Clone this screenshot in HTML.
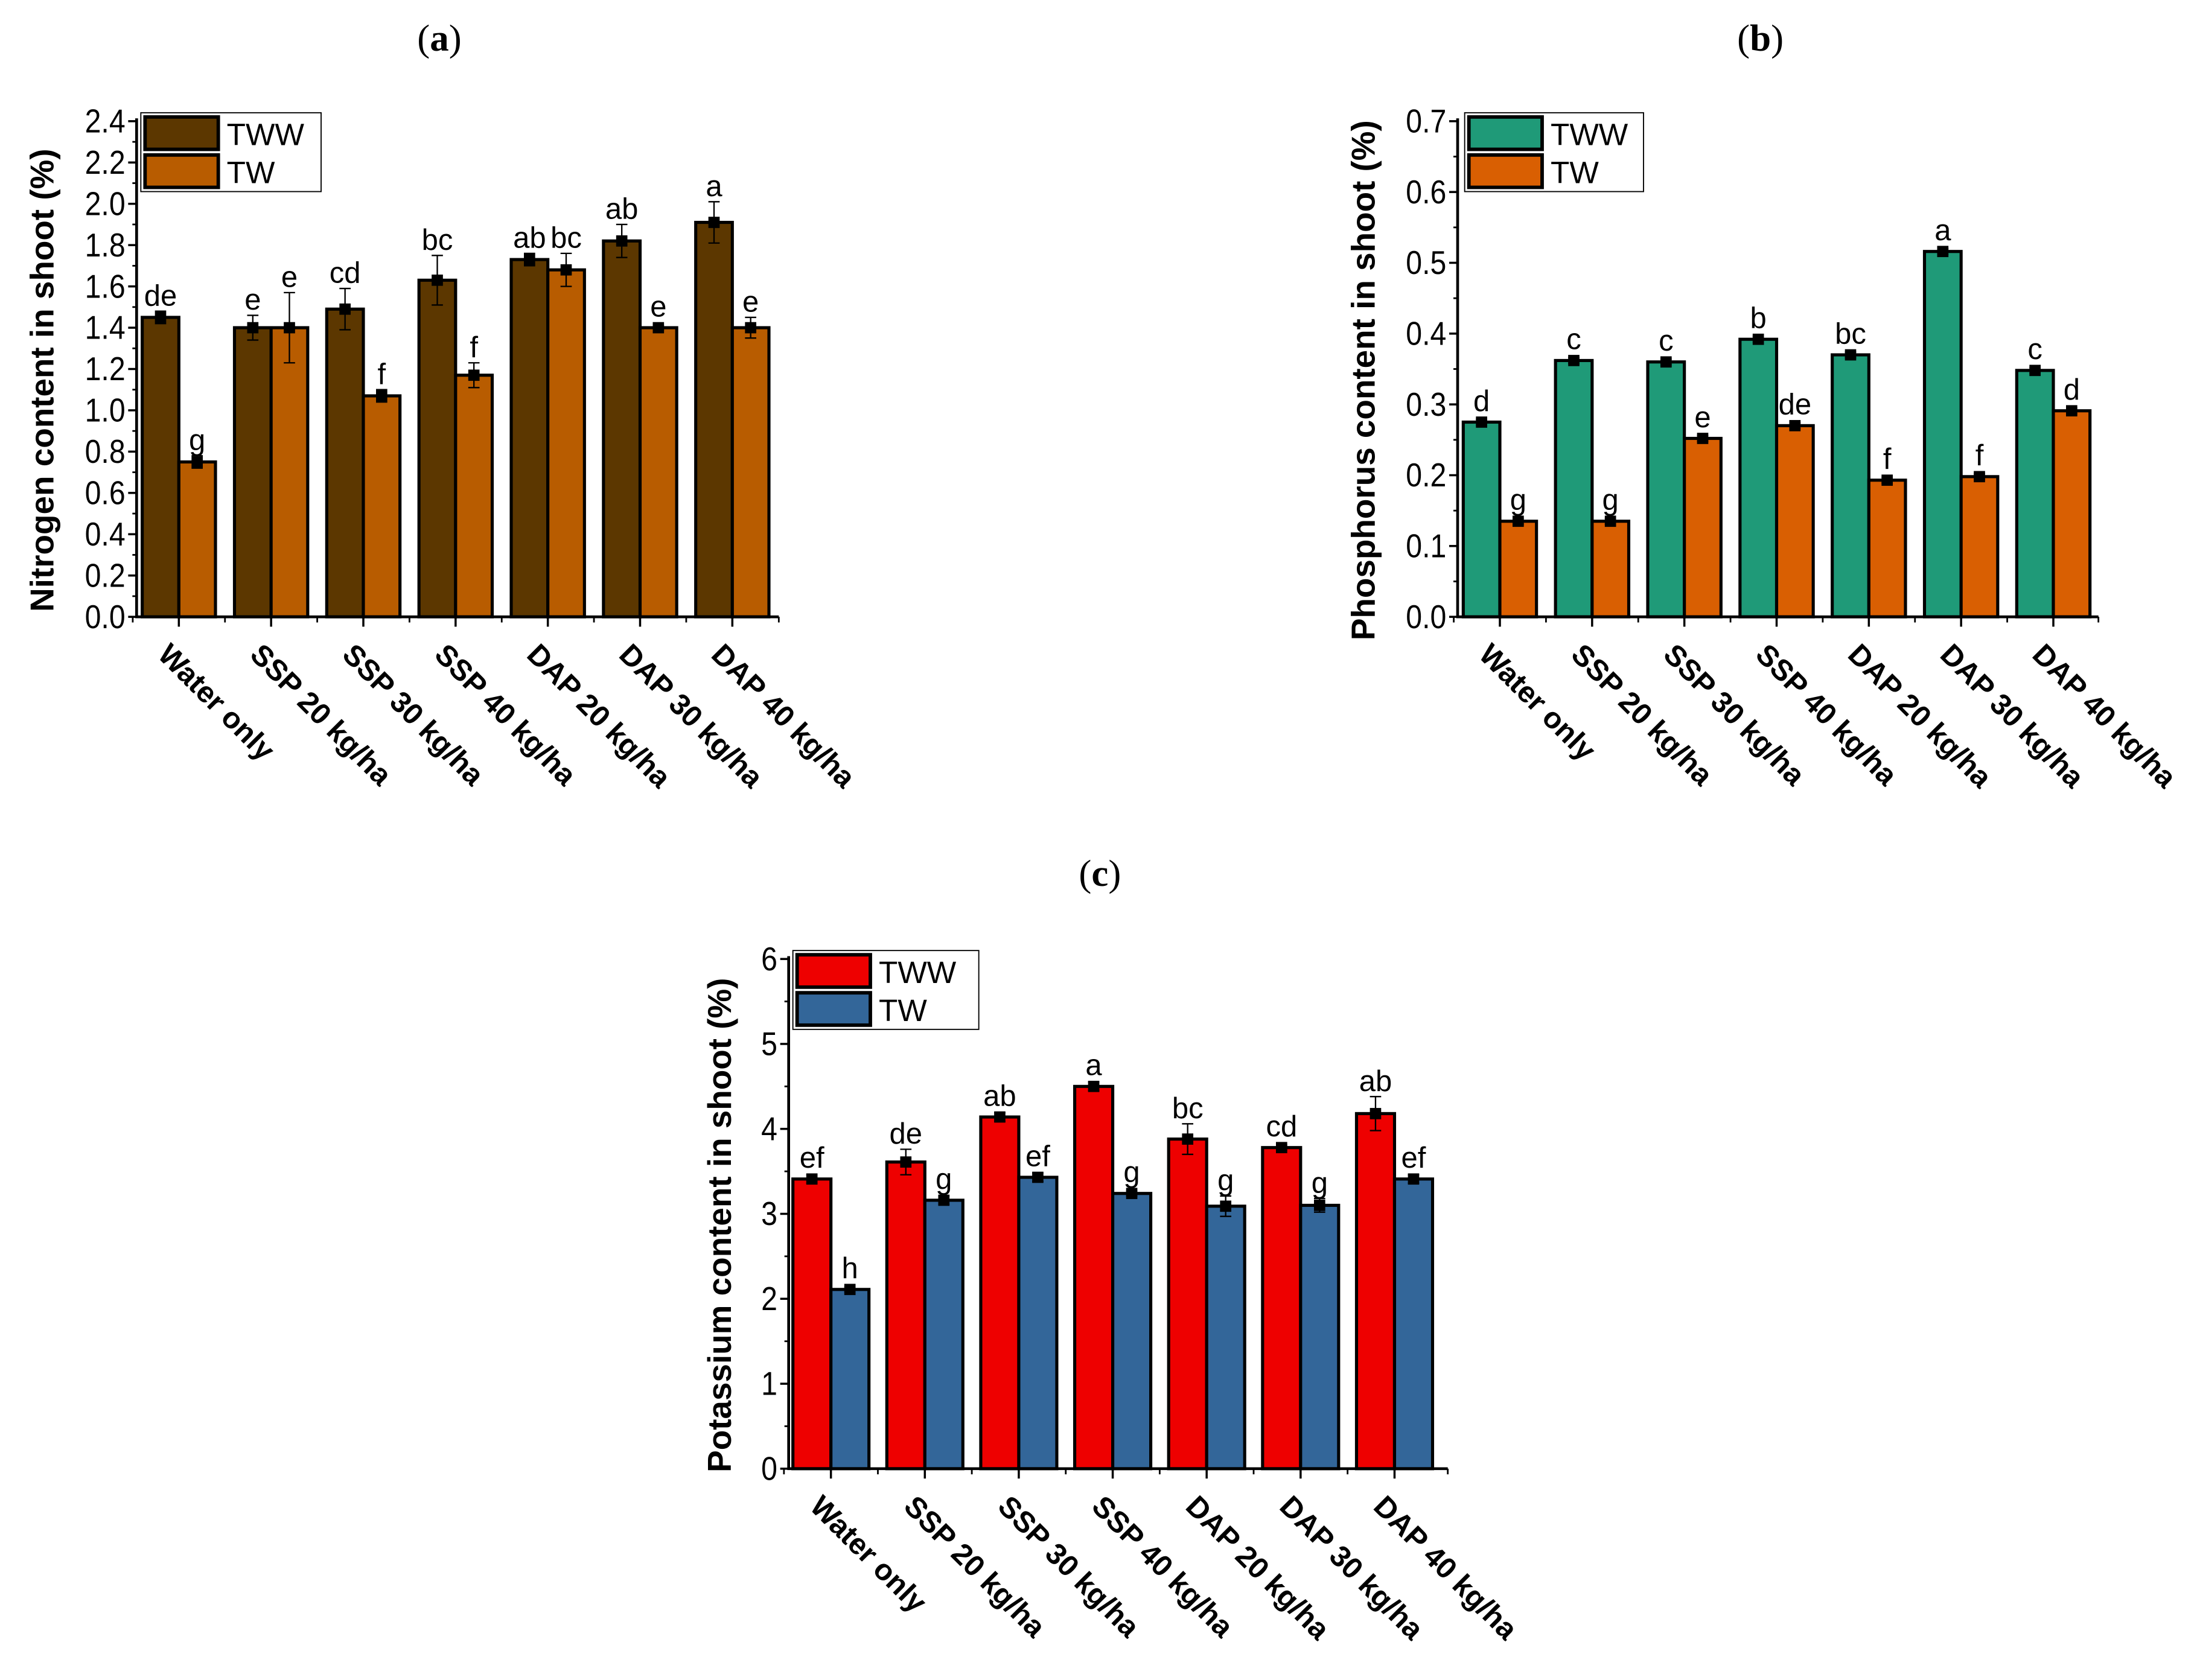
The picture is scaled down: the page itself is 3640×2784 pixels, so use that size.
<!DOCTYPE html>
<html><head><meta charset="utf-8"><style>
html,body{margin:0;padding:0;background:#fff}
svg{display:block}
text{font-family:"Liberation Sans",Arial,sans-serif}
</style></head><body>
<svg id="s" width="3640" height="2784" viewBox="0 0 1560 1193" xmlns="http://www.w3.org/2000/svg"></svg>
<script>
const categories=["Water only","SSP 20 kg/ha","SSP 30 kg/ha","SSP 40 kg/ha","DAP 20 kg/ha","DAP 30 kg/ha","DAP 40 kg/ha"];
const seriesNames=["TWW","TW"];
const nTWW=[1.45,1.40,1.49,1.63,1.73,1.82,1.91];
const nTWWerr=[0.03,0.06,0.10,0.12,0.03,0.08,0.10];
const nTW=[0.75,1.40,1.07,1.17,1.68,1.40,1.40];
const nTWerr=[0.03,0.17,0.03,0.06,0.08,0.01,0.05];
const nTWWlet=["de","e","cd","bc","ab","ab","a"];
const nTWlet=["g","e","f","f","bc","e","e"];
const nTicks=[0,0.2,0.4,0.6,0.8,1.0,1.2,1.4,1.6,1.8,2.0,2.2,2.4];
const pTWW=[0.275,0.362,0.360,0.392,0.370,0.516,0.348];
const pTWWerr=[0.004,0.004,0.004,0.004,0.004,0.004,0.004];
const pTW=[0.135,0.135,0.252,0.270,0.193,0.198,0.291];
const pTWerr=[0.004,0.004,0.004,0.004,0.004,0.004,0.004];
const pTWWlet=["d","c","c","b","bc","a","c"];
const pTWlet=["g","g","e","de","f","f","d"];
const pTicks=[0,0.1,0.2,0.3,0.4,0.5,0.6,0.7];
const kTWW=[3.41,3.61,4.14,4.50,3.88,3.78,4.18];
const kTWWerr=[0.05,0.15,0.05,0.05,0.18,0.03,0.2];
const kTW=[2.11,3.16,3.43,3.24,3.09,3.10,3.41];
const kTWerr=[0.03,0.05,0.05,0.03,0.12,0.08,0.05];
const kTWWlet=["ef","de","ab","a","bc","cd","ab"];
const kTWlet=["h","g","ef","g","g","g","ef"];
const kTicks=[0,1,2,3,4,5,6];

const NS="http://www.w3.org/2000/svg";
const S=document.getElementById('s');
function mk(tag,attrs,parent,txt){const e=document.createElementNS(NS,tag);for(const k in attrs)e.setAttribute(k,attrs[k]);if(txt!==undefined)e.textContent=txt;(parent||S).appendChild(e);return e;}

function panel(o){
  const g=mk('g',{});
  
  
  const ymax=o.ticks[o.ticks.length-1];
  const Y=v=>o.y0-(v/ymax)*(o.y0-o.yTop);
  const X=i=>o.cx0+i*o.step;
  const bw=o.bw;
  const t=mk('text',{x:o.titleX,y:o.titleY,'text-anchor':'middle','font-size':27,style:'font-family:"Liberation Serif",serif'},g);
  
  
  mk('tspan',{},t,'(');mk('tspan',{'font-weight':'bold'},t,o.label);mk('tspan',{},t,')');
  const ser=[[o.v1,o.e1,o.l1,o.c1],[o.v2,o.e2,o.l2,o.c2]];
  ser.forEach((s,si)=>{
    s[0].forEach((v,i)=>{
      const x=X(i)+(si===0?-bw:0);
      const r=mk('rect',{x:x,y:Y(v),width:bw,height:o.y0-Y(v),fill:s[3],stroke:'#000','stroke-width':2.2},g);
      
      
    });
  });
  ser.forEach((s,si)=>{
    s[0].forEach((v,i)=>{
      const cx=X(i)+(si===0?-bw/2:bw/2);
      const yt=Y(v+s[1][i]),yb=Y(v-s[1][i]);
      const eb=mk('path',{d:`M${cx},${yt}V${yb}M${cx-4},${yt}H${cx+4}M${cx-4},${yb}H${cx+4}`,stroke:'#000','stroke-width':1,fill:'none'},g);
      
      
      const m=mk('rect',{x:cx-4,y:Y(v)-4,width:8,height:8,fill:'#000'},g);
      
      
      const lt=mk('text',{x:cx,y:Math.min(yt,Y(v)-4)-4,'text-anchor':'middle','font-size':21},g,s[2][i]);
      
      
    });
  });
  const ax=mk('path',{d:`M${o.ax},${o.yTop-2}V${o.y0}H${o.xEnd}`,stroke:'#000','stroke-width':2,fill:'none'},g);
  
  
  o.ticks.forEach((tv,i)=>{
    const y=Y(tv);
    mk('line',{x1:o.ax-6,x2:o.ax,y1:y,y2:y,stroke:'#000','stroke-width':1.5},g);
    if(i<o.ticks.length-1){const ym=Y((tv+o.ticks[i+1])/2);mk('line',{x1:o.ax-3,x2:o.ax,y1:ym,y2:ym,stroke:'#000','stroke-width':1.2},g);}
    const tl=mk('text',{x:o.ax-8,y:y+8,'text-anchor':'end','font-size':23.5,transform:`translate(${o.ax-8},0) scale(0.88,1) translate(${-(o.ax-8)},0)`},g,o.fmt(tv));
    
    
  });
  categories.forEach((c,i)=>{
    const x=X(i);
    mk('line',{x1:x,x2:x,y1:o.y0,y2:o.y0+7,stroke:'#000','stroke-width':1.5},g);
    const bx=x-o.step/2;
    mk('line',{x1:bx,x2:bx,y1:o.y0,y2:o.y0+4,stroke:'#000','stroke-width':1.2},g);
    const tx=x-16,ty=o.y0+28;
    const xl=mk('text',{x:tx,y:ty,'font-size':21,'font-weight':'bold',transform:`rotate(45 ${tx} ${ty})`},g,c);
    
    
  });
  mk('line',{x1:o.xEnd,x2:o.xEnd,y1:o.y0,y2:o.y0+4,stroke:'#000','stroke-width':1.2},g);
  const yt=mk('text',{x:0,y:0,'text-anchor':'middle','font-size':23.5,'font-weight':'bold',transform:`translate(${o.ytX},${(o.y0+o.yTop)/2+8}) rotate(-90)`},g,o.ytitle);
  
  
  const lg=mk('g',{},g);
  
  
  mk('rect',{x:o.lgX,y:o.lgY,width:o.lgW,height:56,fill:'#fff',stroke:'#000','stroke-width':0.8},lg);
  [o.c1,o.c2].forEach((c,k)=>{
    const e=mk('g',{},lg);
    
    
    mk('rect',{x:o.lgX+3,y:o.lgY+3+k*27,width:52,height:23,fill:c,stroke:'#000','stroke-width':2.5},e);
    mk('text',{x:o.lgX+61,y:o.lgY+23+k*27,'font-size':22},e,seriesNames[k]);
  });
}

panel({name:'nitrogen-chart',label:'a',titleX:312,titleY:36,ax:97,yTop:86,y0:438,xEnd:553,cx0:127,step:65.5,bw:26,
  ticks:nTicks,fmt:v=>v.toFixed(1),v1:nTWW,e1:nTWWerr,l1:nTWWlet,v2:nTW,e2:nTWerr,l2:nTWlet,c1:'#5c3700',c2:'#b85c00',
  ytitle:'Nitrogen content in  shoot (%)',ytX:38,lgX:100,lgY:80,lgW:128});
panel({name:'phosphorus-chart',label:'b',titleX:1250,titleY:36,ax:1035,yTop:86,y0:438,xEnd:1490,cx0:1065,step:65.5,bw:26,
  ticks:pTicks,fmt:v=>v.toFixed(1),v1:pTWW,e1:pTWWerr,l1:pTWWlet,v2:pTW,e2:pTWerr,l2:pTWlet,c1:'#1f9a78',c2:'#d95f02',
  ytitle:'Phosphorus content in  shoot (%)',ytX:976,lgX:1040,lgY:80,lgW:127});
panel({name:'potassium-chart',label:'c',titleX:781,titleY:629,ax:560,yTop:681,y0:1043,xEnd:1028,cx0:590,step:66.7,bw:27,
  ticks:kTicks,fmt:v=>String(v),v1:kTWW,e1:kTWWerr,l1:kTWWlet,v2:kTW,e2:kTWerr,l2:kTWlet,c1:'#ee0000',c2:'#336699',
  ytitle:'Potassium content in  shoot (%)',ytX:519,lgX:563,lgY:675,lgW:132});
</script>
</body></html>
